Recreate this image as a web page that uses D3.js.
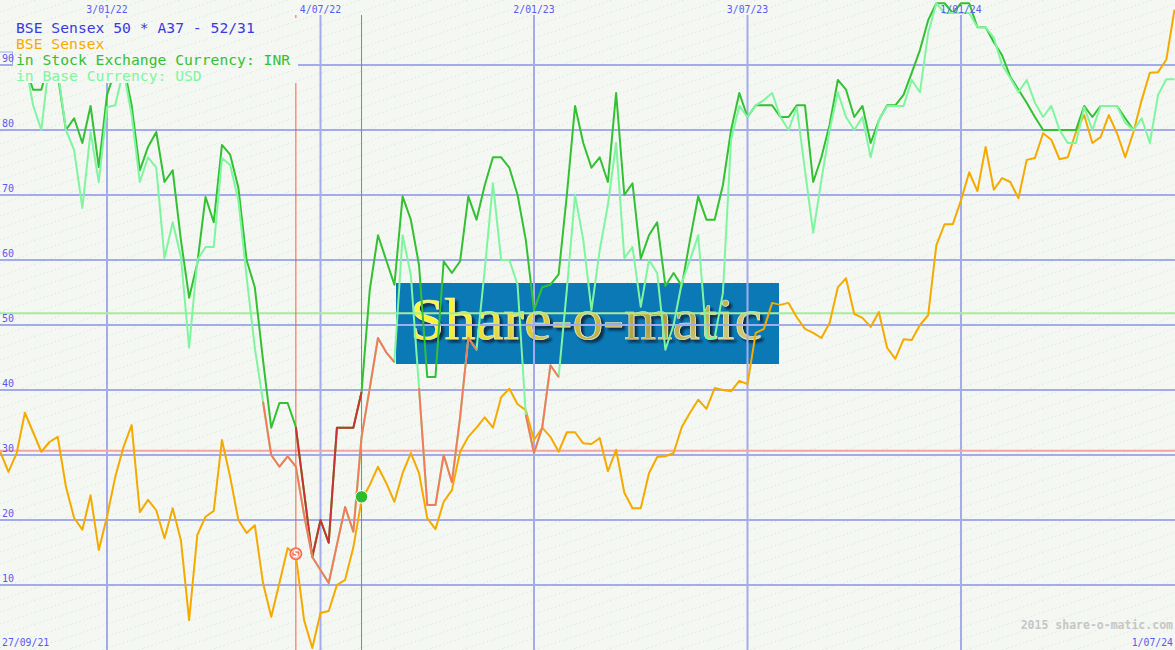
<!DOCTYPE html>
<html><head><meta charset="utf-8">
<script src="https://cdn.jsdelivr.net/npm/d3@7"></script>
<style>
html,body{margin:0;padding:0;background:#f4f7f2;overflow:hidden}
svg{display:block}
</style></head><body>
<svg id="chart" width="1175" height="650"></svg>
<script>
// ---------- data ----------
const firstObservation = "2021-10-04";   // weekly observations (Mondays)
const lastObservation  = "2024-07-01";
const chartStart = "2021-09-27";
const chartEnd   = "2024-07-01";
const xTickDates = ["2022-01-03","2022-07-04","2023-01-02","2023-07-03","2024-01-01"];
const yTicks = [10,20,30,40,50,60,70,80,90];

const legendTexts = ["BSE Sensex 50 * A37 - 52/31","BSE Sensex","in Stock Exchange Currency: INR","in Base Currency: USD"];

// BSE Sensex (orange)
const sensex = [30.5,27.4,30.3,36.5,33.5,30.5,32.0,32.8,25.1,20.3,18.5,23.8,15.4,20.5,26.6,31.2,34.6,21.2,23.1,21.5,
17.2,21.8,16.9,4.6,17.7,20.5,21.4,32.3,26.6,20.0,18.0,19.2,10.3,5.1,10.3,15.7,14.5,4.6,0.3,5.7,
6.0,10.0,10.8,15.8,23.1,25.4,28.2,25.7,22.8,27.2,30.3,27.2,20.3,18.6,22.8,24.6,30.5,32.8,34.2,35.8,
34.2,38.9,40.2,37.8,36.9,32.3,34.2,32.8,30.5,33.5,33.5,31.8,31.7,32.6,27.5,30.8,24.2,21.8,21.8,27.2,
29.7,29.8,30.3,34.3,36.5,38.5,37.1,40.3,40.0,39.8,41.4,40.9,48.8,49.4,53.4,53.1,53.4,51.2,49.4,48.8,
48.0,50.3,55.8,57.2,51.7,51.1,49.7,52.0,46.5,44.8,47.8,47.7,50.0,51.5,62.3,65.5,65.5,69.2,73.5,70.6,
77.4,70.8,72.6,72.0,69.5,75.4,75.7,79.5,78.5,75.5,75.8,79.7,82.3,78.0,78.9,82.3,79.5,75.8,79.7,84.6,
88.8,88.9,90.8,98.5];

// in Stock Exchange Currency: INR (green)
const inr = [90.8,89.2,91.5,90.0,86.2,86.2,90.8,88.5,80.0,81.8,78.0,83.7,74.3,85.4,89.2,90.0,83.8,73.8,77.4,79.7,
72.0,73.8,63.1,54.2,59.5,69.7,65.8,77.7,76.2,71.1,60.0,55.8,44.6,34.2,38.0,38.0,34.3,24.3,14.3,20.0,
16.5,34.2,34.2,34.2,39.7,55.4,63.8,60.0,56.2,69.8,66.2,59.2,42.0,42.0,59.8,58.0,59.8,69.8,66.2,71.5,
75.8,75.8,74.2,70.0,63.1,52.3,55.8,56.2,57.8,70.0,83.7,78.0,74.2,75.8,72.0,85.7,70.0,71.8,60.2,63.8,
65.8,56.0,58.0,56.0,63.1,69.8,66.2,66.2,71.5,80.0,85.7,82.0,83.8,83.8,83.8,82.0,82.0,83.8,83.8,72.0,
75.8,80.8,87.7,86.2,82.0,83.7,78.0,81.5,83.8,83.8,85.4,88.8,92.3,96.9,99.5,99.5,98.0,99.5,99.5,95.8,
95.8,93.5,91.5,88.2,86.2,84.2,82.0,80.0,80.0,80.0,80.0,80.0,83.7,82.0,83.7,83.7,83.7,81.8,80.0];

// in Base Currency: USD (light green)
const usd = [92.3,93.1,91.5,90.8,83.8,80.0,90.8,89.2,80.0,76.9,68.0,79.7,72.0,83.5,83.8,89.2,82.3,72.0,75.8,74.2,
60.3,65.8,60.5,46.5,60.0,62.0,62.0,75.7,74.6,69.2,57.4,46.5,38.2,30.0,28.2,29.8,28.2,20.8,14.3,12.3,
10.3,16.2,22.0,18.2,32.8,40.3,48.0,45.8,44.3,63.8,57.7,40.3,22.3,22.3,30.0,25.8,35.8,48.0,46.2,58.5,
71.8,60.0,60.0,56.2,36.2,30.3,34.2,43.8,42.0,55.4,70.0,63.1,52.3,61.5,68.5,78.0,60.3,62.0,52.8,60.0,
58.0,46.2,50.0,56.5,60.0,63.8,48.0,48.0,54.9,78.5,83.7,82.0,83.8,84.6,85.7,82.0,80.0,83.5,73.8,64.2,
72.3,80.0,85.8,82.0,80.0,82.0,75.8,81.5,83.7,83.7,83.7,87.7,85.8,94.9,99.5,98.0,98.0,98.0,98.0,95.8,
95.8,94.2,90.0,88.0,85.8,87.7,84.2,82.0,83.7,80.0,78.0,78.0,83.5,80.0,83.7,83.7,83.7,81.1,80.0,81.8,
78.0,85.4,87.8,87.8];

// signal periods
const sellDate = "2022-06-13";
const buyDate  = "2022-08-08";
const inrSellSpans = [["2022-06-13","2022-08-08"]];
const usdSellSpans = [["2022-05-16","2022-09-05"],["2022-09-26","2022-11-14"],["2022-12-26","2023-01-23"]];
const sellLevel = 30.66;
const buyLevel = 51.8;

// ---------- drawing ----------
const W = 1175, H = 650;
const parse = d3.timeParse("%Y-%m-%d");
const fmt = d3.timeFormat("%-d/%m/%y");
const dates = d3.timeMonday.range(parse(firstObservation), d3.timeDay.offset(parse(lastObservation), 1));
const idx = s => d3.bisectLeft(dates, parse(s));

const x = d3.scaleTime().domain([parse(xTickDates[0]), parse(xTickDates[4])]).range([107, 961]);
const y = d3.scaleLinear().domain([0, 100]).range([H, 0]);

const svg = d3.select("#chart");
const defs = svg.append("defs");
const pat = defs.append("pattern").attr("id","bgp").attr("patternUnits","userSpaceOnUse")
  .attr("width",36).attr("height",12);
pat.append("rect").attr("width",36).attr("height",12).attr("fill","#f4f7f2");
pat.append("line").attr("x1",0).attr("y1",12).attr("x2",36).attr("y2",0)
  .attr("stroke","#cfe4d6").attr("stroke-width",1).attr("stroke-dasharray","1,3");

const grad = defs.append("linearGradient").attr("id","wmg").attr("x1","0").attr("x2","1").attr("y1","0").attr("y2","0.3");
[["0%","#ffff40"],["30%","#f6ee30"],["55%","#d4c440"],["80%","#b0a040"],["100%","#d0c870"]].forEach(s=>
  grad.append("stop").attr("offset",s[0]).attr("stop-color",s[1]));
const flt = defs.append("filter").attr("id","wmshadow").attr("x","-5%").attr("y","-20%").attr("width","115%").attr("height","150%");
flt.append("feDropShadow").attr("dx",3).attr("dy",3).attr("stdDeviation",1.2)
  .attr("flood-color","#0a2030").attr("flood-opacity",0.85);

svg.append("rect").attr("width",W).attr("height",H).attr("fill","url(#bgp)");

// watermark
svg.append("rect").attr("x",396).attr("y",283).attr("width",383).attr("height",81).attr("fill","#0a79b6");
svg.append("text").attr("x",410).attr("y",339).attr("font-family","'Liberation Serif',serif")
  .attr("font-size",59).attr("textLength",352).attr("lengthAdjust","spacingAndGlyphs")
  .attr("fill","url(#wmg)").attr("stroke","#f0f4d8").attr("stroke-width",0.6)
  .attr("filter","url(#wmshadow)").text("Share-o-matic");

// grid
const gridColor = "#a3abeb";
svg.append("g").selectAll("line").data(yTicks).join("line")
  .attr("x1",0).attr("x2",W).attr("y1",d=>y(d)).attr("y2",d=>y(d))
  .attr("stroke",gridColor).attr("stroke-width",2);
svg.append("g").selectAll("line").data(xTickDates).join("line")
  .attr("x1",d=>x(parse(d))).attr("x2",d=>x(parse(d))).attr("y1",15).attr("y2",H)
  .attr("stroke",gridColor).attr("stroke-width",2);

// reference levels
svg.append("line").attr("x1",0).attr("x2",W).attr("y1",y(sellLevel)).attr("y2",y(sellLevel))
  .attr("stroke","#f4a4a0").attr("stroke-width",2);
svg.append("line").attr("x1",0).attr("x2",W).attr("y1",y(buyLevel)).attr("y2",y(buyLevel))
  .attr("stroke","#a8ec98").attr("stroke-width",2);

// signal verticals
svg.append("line").attr("x1",x(parse(sellDate))).attr("x2",x(parse(sellDate))).attr("y1",15).attr("y2",H)
  .attr("stroke","#f06040").attr("stroke-width",1);
svg.append("line").attr("x1",x(parse(buyDate))).attr("x2",x(parse(buyDate))).attr("y1",15).attr("y2",H)
  .attr("stroke","#30c030").attr("stroke-width",1);

// series
const line = d3.line().x(d=>x(d[0])).y(d=>y(d[1]));
const pts = arr => arr.map((v,i)=>[dates[i], v]);
function drawSeries(arr, color, spans, spanColor){
  const p = pts(arr);
  svg.append("path").attr("d", line(p)).attr("fill","none").attr("stroke",color)
    .attr("stroke-width",2).attr("stroke-linejoin","round");
  (spans||[]).forEach(s=>{
    const a = idx(s[0]), b = idx(s[1]);
    svg.append("path").attr("d", line(p.slice(a, b+1))).attr("fill","none").attr("stroke",spanColor)
      .attr("stroke-width",2).attr("stroke-linejoin","round");
  });
}
drawSeries(sensex, "#f5aa00");
drawSeries(inr, "#33c033", inrSellSpans, "#cc3030");
drawSeries(usd, "#80f5a0", usdSellSpans, "#f57a5a");

// markers
const si = idx(sellDate), bi = idx(buyDate);
svg.append("circle").attr("cx",x(dates[si])).attr("cy",y(sensex[si])-2).attr("r",6.5).attr("fill","#f46e50");
svg.append("circle").attr("cx",x(dates[si])).attr("cy",y(sensex[si])-2).attr("r",4.2).attr("fill","none")
  .attr("stroke","#ffffff").attr("stroke-width",1);
svg.append("text").attr("x",x(dates[si])).attr("y",y(sensex[si])+1.5).attr("text-anchor","middle")
  .attr("font-family","'DejaVu Sans',sans-serif").attr("font-size",8).attr("font-weight","bold")
  .attr("fill","#ffffff").text("S");
svg.append("circle").attr("cx",x(dates[bi])).attr("cy",y(sensex[bi])-3).attr("r",6.2).attr("fill","#2ebc2e")
  .attr("stroke","#ffffff").attr("stroke-width",1);

// legend
svg.append("rect").attr("x",0).attr("y",18).attr("width",298).attr("height",65).attr("fill","url(#bgp)");
const legendColors = ["#3a3ae0","#f5aa00","#33c033","#80f5a0"];
svg.append("g").selectAll("text").data(legendTexts).join("text")
  .attr("x",16).attr("y",(d,i)=>33+16*i)
  .attr("font-family","'DejaVu Sans Mono',monospace").attr("font-size",14.7)
  .attr("fill",(d,i)=>legendColors[i]).text(d=>d);

// axis labels
const labelColor = "#5a5af0";
svg.append("line").attr("x1",0).attr("x2",13).attr("y1",y(90)).attr("y2",y(90))
  .attr("stroke",gridColor).attr("stroke-width",2);
svg.append("rect").attr("x",-1).attr("y",52).attr("width",13.5).attr("height",13).attr("fill","none")
  .attr("stroke",gridColor).attr("stroke-width",1);
svg.append("g").selectAll("text").data(yTicks).join("text")
  .attr("x",2).attr("y",d=>y(d)-3)
  .attr("font-family","'DejaVu Sans Mono',monospace").attr("font-size",10)
  .attr("fill",labelColor).text(d=>d);
svg.append("g").selectAll("text").data(xTickDates).join("text")
  .attr("x",d=>x(parse(d))).attr("y",13).attr("text-anchor","middle")
  .attr("font-family","'DejaVu Sans Mono',monospace").attr("font-size",9.8)
  .attr("fill",labelColor).text(d=>fmt(parse(d)));

// footer
svg.append("text").attr("x",1173).attr("y",629).attr("text-anchor","end")
  .attr("font-family","'DejaVu Sans Mono',monospace").attr("font-size",11.5).attr("font-weight","bold")
  .attr("fill","#c6c6c6").text("2015 share-o-matic.com");
svg.append("text").attr("x",1173).attr("y",646).attr("text-anchor","end")
  .attr("font-family","'DejaVu Sans Mono',monospace").attr("font-size",9.8)
  .attr("fill",labelColor).text(fmt(parse(chartEnd)));
svg.append("text").attr("x",2).attr("y",646)
  .attr("font-family","'DejaVu Sans Mono',monospace").attr("font-size",9.8)
  .attr("fill",labelColor).text(fmt(parse(chartStart)));
</script>
</body></html>
